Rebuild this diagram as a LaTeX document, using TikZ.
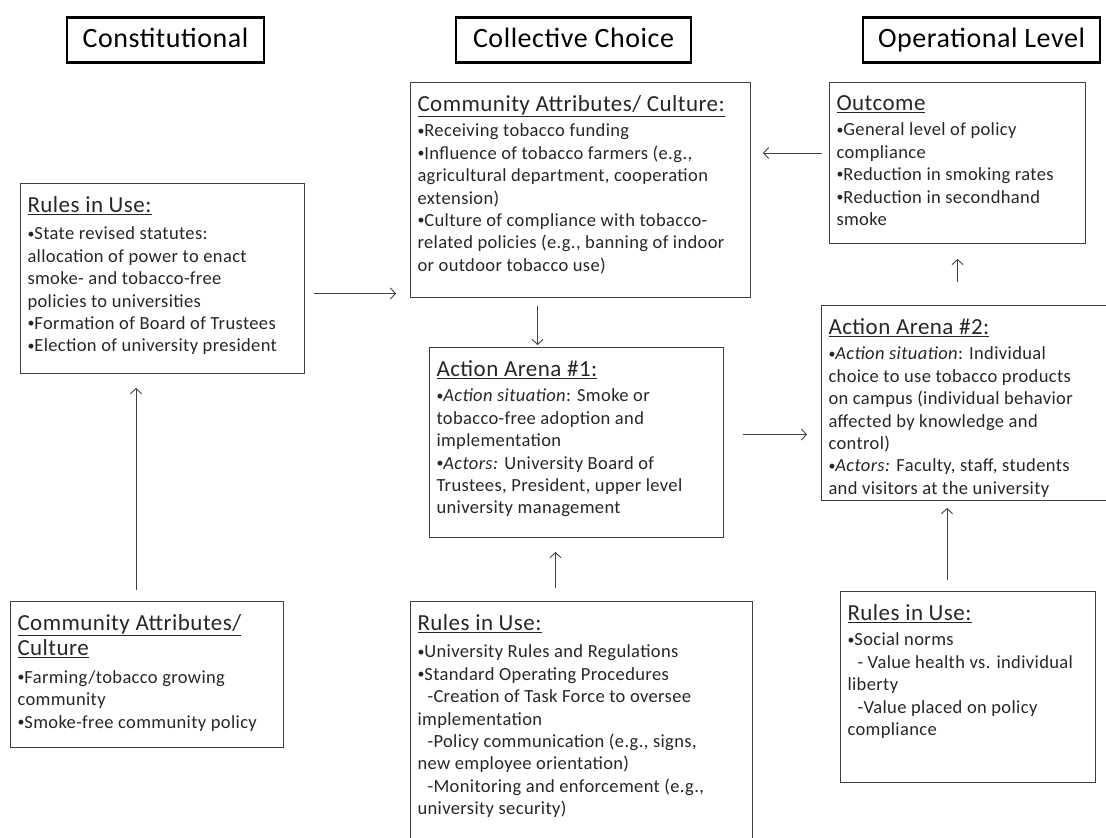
\documentclass[tikz,border=0pt]{standalone}
\usepackage{graphicx}
\usepackage{fontspec}
\setmainfont[LetterSpace=2]{Carlito}
\usetikzlibrary{arrows.meta}
\tikzset{
  level/.style={draw, line width=2.4pt, font=\fontsize{28}{30}\selectfont, minimum height=45pt, text height=20pt, text depth=6pt, inner xsep=6pt},
  panel/.style={draw=black!75, line width=1pt, anchor=north west, inner xsep=7pt, inner ysep=13pt, text=black!85, font=\fontsize{18.5}{22.4}\selectfont},
  link/.style={-{Straight Barb[length=5pt,width=11pt]}, line width=0.9pt, black!75},
}
\newcommand{\head}[1]{\underline{\fontsize{23}{26}\selectfont #1}}
\newcommand{\pbox}[3]{\parbox[t][#2][t]{#1}{\raggedright #3}}
\newcommand{\sub}{\hspace*{10pt}}
\newcommand{\bul}{\raisebox{0.2ex}{\scalebox{0.75}{•}}}
\begin{document}
\begin{tikzpicture}[x=1pt,y=-1pt]
\useasboundingbox (0,0) rectangle (1106,838);
% level titles
\node[level, minimum width=197pt] (tconst) at (165.5,40) {Constitutional};
\node[level, minimum width=235pt] (tcoll) at (573.5,40) {Collective Choice};
\node[level, minimum width=237pt] (toper) at (981.5,40) {Operational Level};
% constitutional column
\node[panel] (rulesA) at (20,183) {\pbox{270pt}{164pt}{\head{Rules in Use:}\\[5pt]
\bul State revised statutes:\\
allocation of power to enact\\
smoke- and tobacco-free\\
policies to universities\\
\bul Formation of Board of Trustees\\
\bul Election of university president}};
\node[panel] (commA) at (10,601) {\pbox{259pt}{120pt}{\head{Community Attributes/}\\[3pt]
\head{Culture}\\[5pt]
\bul Farming/tobacco growing\\
community\\
\bul Smoke-free community policy}};
% collective choice column
\node[panel] (commB) at (410,82) {\pbox{326pt}{189pt}{\head{Community Attributes/ Culture:}\\[3pt]
\bul Receiving tobacco funding\\
\bul Influence of tobacco farmers (e.g.,\\
agricultural department, cooperation\\
extension)\\
\bul Culture of compliance with tobacco-\\
related policies (e.g., banning of indoor\\
or outdoor tobacco use)}};
\node[panel] (arenaB) at (429,347) {\pbox{280pt}{164pt}{\head{Action Arena \#1:}\\[3pt]
\bul\textit{Action situation}: Smoke or\\
tobacco-free adoption and\\
implementation\\
\bul\textit{Actors:} University Board of\\
Trustees, President, upper level\\
university management}};
\node[panel] (rulesB) at (410,601) {\pbox{328pt}{224pt}{\head{Rules in Use:}\\[5pt]
\bul University Rules and Regulations\\
\bul Standard Operating Procedures\\
\sub-Creation of Task Force to oversee\\
implementation\\
\sub-Policy communication (e.g., signs,\\
new employee orientation)\\
\sub-Monitoring and enforcement (e.g.,\\
university security)}};
% operational column
\node[panel] (outC) at (829,82) {\pbox{242pt}{135pt}{\head{Outcome}\\[3pt]
\bul General level of policy\\
compliance\\
\bul Reduction in smoking rates\\
\bul Reduction in secondhand\\
smoke}};
\node[panel] (arenaC) at (821,305) {\pbox{276pt}{169pt}{\head{Action Arena \#2:}\\[3pt]
\bul\textit{Action situation}: Individual\\
choice to use tobacco products\\
on campus (individual behavior\\
affected by knowledge and\\
control)\\
\bul\textit{Actors:} Faculty, staff, students\\
and visitors at the university}};
\node[panel] (rulesC) at (840,591) {\pbox{241pt}{165pt}{\head{Rules in Use:}\\[3pt]
\bul Social norms\\
\sub- Value health vs. individual\\
liberty\\
\sub-Value placed on policy\\
compliance}};
% links
\draw[link] ([shift={(9,15)}]rulesA.east) coordinate (p1) -- ([xshift=-14pt]commB.west |- p1);
\draw[link] ([shift={(-7,-10)}]outC.west) coordinate (p2) -- ([xshift=12pt]commB.east |- p2);
\draw[link] ([shift={(-43,8)}]commB.south) coordinate (p3) -- ([shift={(0,-2)}]arenaB.north -| p3);
\draw[link] ([shift={(0,-23)}]outC.south |- arenaC.north) -- ([shift={(0,15)}]outC.south);
\draw[link] ([shift={(19,-8)}]arenaB.east) coordinate (p5) -- ([xshift=-14pt]arenaC.west |- p5);
\draw[link] ([shift={(-11,-11)}]commA.north) coordinate (p6) -- ([shift={(0,14)}]rulesA.south -| p6);
\draw[link] ([shift={(-26,-13)}]rulesB.north) coordinate (p7) -- ([shift={(0,14)}]arenaB.south -| p7);
\draw[link] ([shift={(-21,-11)}]rulesC.north) coordinate (p8) -- ([shift={(0,7)}]arenaC.south -| p8);
\end{tikzpicture}
\end{document}
